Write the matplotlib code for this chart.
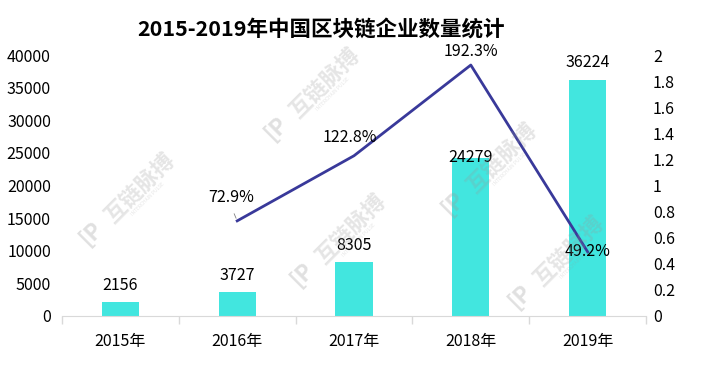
import matplotlib
matplotlib.use("Agg")
import matplotlib.pyplot as plt

plt.rcParams['font.family'] = ['Noto Sans CJK SC', 'DejaVu Sans']

years = ['2015年', '2016年', '2017年', '2018年', '2019年']
companies = [2156, 3727, 8305, 24279, 36224]
growth_years = [1, 2, 3, 4]
growth = [0.729, 1.228, 1.923, 0.492]
growth_labels = ['72.9%', '122.8%', '192.3%', '49.2%']

bar_color = '#42E6DF'
line_color = '#39399A'

fig = plt.figure(figsize=(7.04, 3.67), dpi=100)
ax = fig.add_axes([62 / 704, 51 / 367, 584 / 704, 261 / 367])
ax2 = ax.twinx()

x = list(range(len(years)))
ax.bar(x, companies, width=0.317, color=bar_color, zorder=2)
ax.set_xlim(-0.5, 4.5)
ax.set_ylim(0, 40000)
ax.set_yticks(range(0, 40001, 5000))
ax.set_xticks(x)
ax.set_xticklabels(years)
ax.set_xticks([i - 0.5 for i in range(6)], minor=True)
ax.tick_params(axis='x', which='major', length=0, pad=12, labelsize=11.5)
ax.tick_params(axis='x', which='minor', length=6, color='#d9d9d9', width=1)
ax.tick_params(axis='y', length=0, pad=8, labelsize=11.5)

for s in ['top', 'left', 'right']:
    ax.spines[s].set_visible(False)
    ax2.spines[s].set_visible(False)
ax.spines['bottom'].set_color('#d9d9d9')
ax2.spines['bottom'].set_visible(False)

# bar value labels (2018 sits on the bar top, as in the original)
bar_offsets = [12, 12, 12, 0, 12]
for xi, v, off in zip(x, companies, bar_offsets):
    ax.annotate(str(v), (xi, v), xytext=(0, off), textcoords='offset points',
                ha='center', va='center', fontsize=11.5)

ax2.plot(growth_years, growth, color=line_color, linewidth=2, zorder=3)
ax2.set_ylim(0, 2)
ax2.set_yticks([i / 10 for i in range(0, 21, 2)])
ax2.set_yticklabels(['0', '0.2', '0.4', '0.6', '0.8', '1', '1.2', '1.4', '1.6', '1.8', '2'])
ax2.tick_params(axis='y', length=0, pad=5, labelsize=11.5)

line_offsets = [(-4, 17), (-3, 13), (0, 10), (0, 0)]
for xi, v, lab, off in zip(growth_years, growth, growth_labels, line_offsets):
    ax2.annotate(lab, (xi, v), xytext=off, textcoords='offset points',
                 ha='center', va='center', fontsize=11.5)
# small leader line for 72.9%
ax2.annotate('', (1, 0.729), xytext=(-3, 7), textcoords='offset points',
             arrowprops=dict(arrowstyle='-', color='#808080', lw=0.6))

fig.text(321 / 704, 1 - 29 / 367, '2015-2019年中国区块链企业数量统计',
         ha='center', va='center', fontsize=15.5, fontweight='bold')

# faint watermarks
marks = [(140, 187), (325, 82), (351, 228), (502, 157), (569, 250)]
for mx, my in marks:
    fig.text(mx / 704, 1 - my / 367, '互链脉搏', rotation=45, ha='center', va='center',
             fontsize=16, fontweight='bold', color='#999999', alpha=0.25, zorder=10)
    fig.text((mx + 8) / 704, 1 - (my + 12) / 367, 'INTERCHAIN PULSE', rotation=45,
             ha='center', va='center', fontsize=3.5, color='#999999', alpha=0.25, zorder=10)
    fig.text((mx - 48) / 704, 1 - (my + 46) / 367, '[P', rotation=45, ha='center', va='center',
             fontsize=16, fontweight='bold', color='#999999', alpha=0.3, zorder=10)

fig.savefig('out.png', dpi=100)
